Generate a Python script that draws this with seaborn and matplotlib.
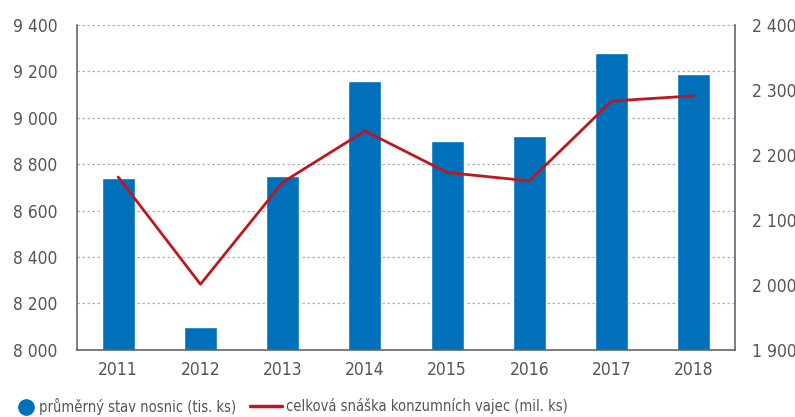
import numpy as np
import pandas as pd
import matplotlib
matplotlib.use("Agg")
import matplotlib.pyplot as plt
import seaborn as sns
from matplotlib.ticker import FuncFormatter, MultipleLocator
from matplotlib.lines import Line2D

# --- DATA ---
years = ["2011", "2012", "2013", "2014", "2015", "2016", "2017", "2018"]
hens = [8740, 8100, 8750, 9160, 8900, 8923, 9280, 9190]      # tis. ks
eggs = [2166, 2001, 2158, 2237, 2173, 2160, 2283, 2291]      # mil. ks

BLUE = '#0070BA'
RED = '#C0161F'
TEXT = '#555555'

sns.set_style("white")
plt.rcParams['font.family'] = ['DejaVu Sans']
plt.rcParams['font.stretch'] = 'condensed'

df = pd.DataFrame({'rok': years, 'nosnice': hens, 'vejce': eggs})

def space_thousands(v, pos):
    return f"{v:,.0f}".replace(",", " ")

fig = plt.figure(figsize=(7.95, 4.17), dpi=100)
ax = fig.add_axes([0.097, 0.161, 0.8275, 0.779])

sns.barplot(data=df, x='rok', y='nosnice', color=BLUE, width=0.4,
            saturation=1, ax=ax, zorder=2)
ax.set_ylim(8000, 9400)
ax.yaxis.set_major_locator(MultipleLocator(200))
ax.yaxis.set_major_formatter(FuncFormatter(space_thousands))
ax.set_xlim(-0.5, 7.5)

ax2 = ax.twinx()
sns.pointplot(data=df, x='rok', y='vejce', color=RED, markers='',
              linewidth=2.0, ax=ax2)
ax2.set_ylim(1900, 2400)
ax2.yaxis.set_major_locator(MultipleLocator(100))
ax2.yaxis.set_major_formatter(FuncFormatter(space_thousands))
ax2.set_xlim(-0.5, 7.5)

# grid
ax.grid(True, axis='y', color='#b0b0b0', linestyle=(0, (2, 2)), linewidth=0.9, zorder=0)
ax.set_axisbelow(True)

for a in (ax, ax2):
    a.set_xlabel("")
    a.set_ylabel("")
    a.spines['top'].set_visible(False)
    for s in ('left', 'right', 'bottom'):
        a.spines[s].set_color('#666666')
        a.spines[s].set_linewidth(1.2)
    a.tick_params(axis='both', length=0, labelsize=12.5, colors=TEXT)
ax.spines['right'].set_visible(False)
ax2.spines['left'].set_visible(False)
ax2.spines['bottom'].set_visible(False)
ax.tick_params(axis='y', pad=14)
ax.tick_params(axis='x', pad=8)
ax2.tick_params(axis='y', pad=12)

# legend
h1 = Line2D([], [], marker='o', color='none', markerfacecolor=BLUE,
            markeredgecolor=BLUE, markersize=11)
h2 = Line2D([], [], color=RED, linewidth=2.5)
fig.legend([h1], ["průměrný stav nosnic (tis. ks)"], loc='center left',
           bbox_to_anchor=(0.024, 0.026), frameon=False, fontsize=10.5,
           handlelength=1.0, handletextpad=0.35, labelcolor=TEXT,
           borderaxespad=0, borderpad=0)
fig.legend([h2], ["celková snáška konzumních vajec (mil. ks)"], loc='center left',
           bbox_to_anchor=(0.314, 0.026), frameon=False, fontsize=10.5,
           handlelength=2.2, handletextpad=0.3, labelcolor=TEXT,
           borderaxespad=0, borderpad=0)

fig.savefig("out.png", dpi=100)
